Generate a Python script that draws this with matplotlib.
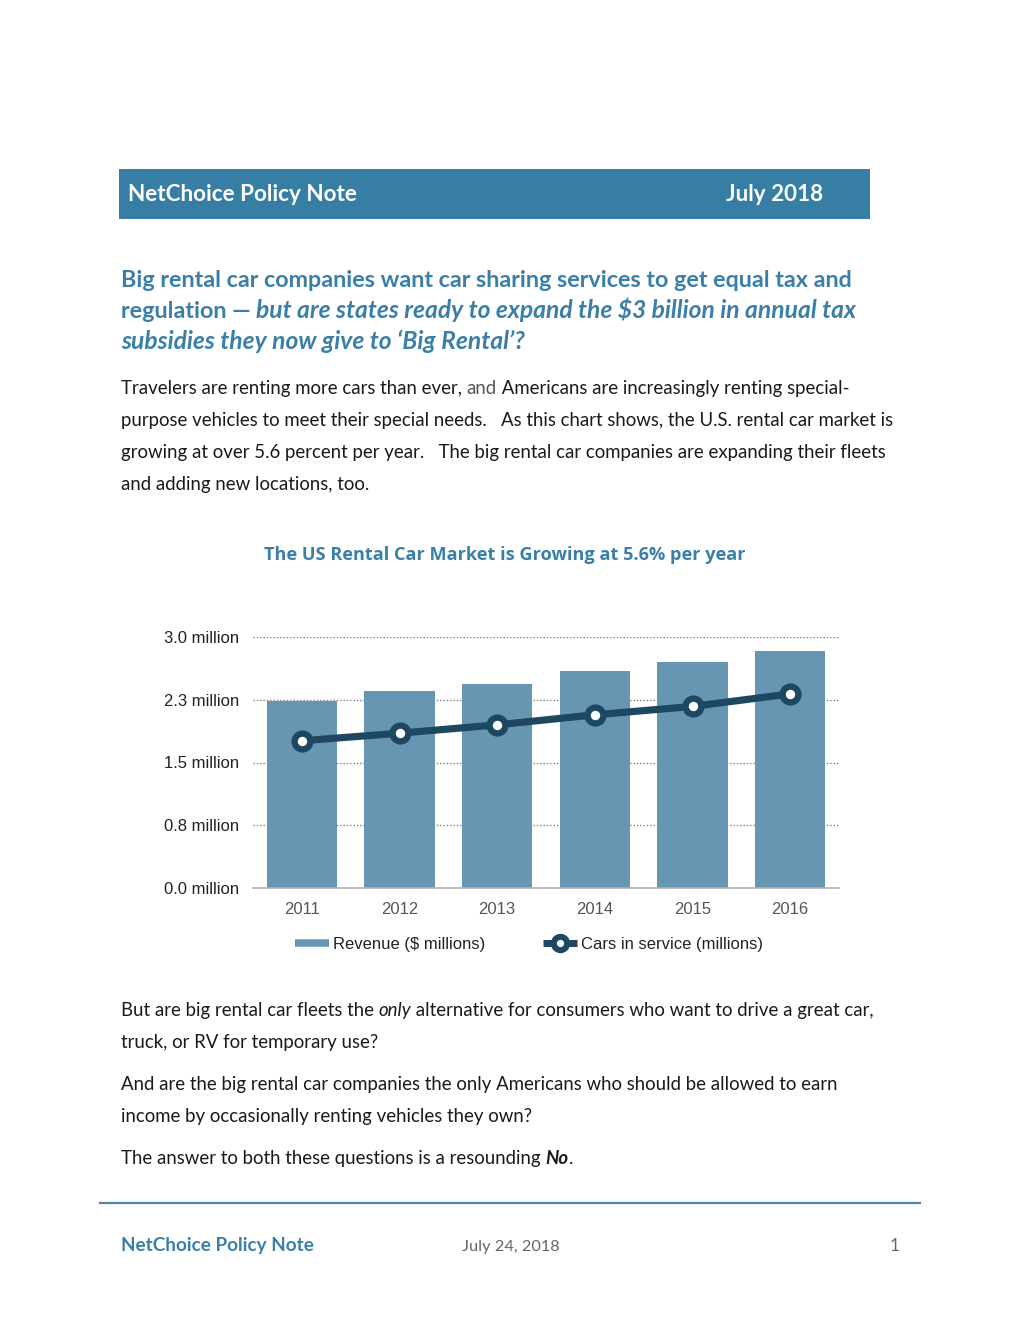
import matplotlib
matplotlib.use("Agg")
import matplotlib.pyplot as plt
from matplotlib.lines import Line2D
from matplotlib.patches import Rectangle

# ---------------- data ----------------
years = ["2011", "2012", "2013", "2014", "2015", "2016"]
revenue = [2.23, 2.35, 2.44, 2.59, 2.70, 2.83]
cars = [1.76, 1.85, 1.95, 2.07, 2.17, 2.32]
ytick_values = [0.0, 0.75, 1.5, 2.25, 3.0]
ytick_labels = ["0.0 million", "0.8 million", "1.5 million", "2.3 million", "3.0 million"]
legend_labels = ["Revenue ($ millions)", "Cars in service (millions)"]
chart_title = "The US Rental Car Market is Growing at 5.6% per year"

# ---------------- styles ----------------
W, H, DPI = 1020, 1320, 120
HEADER = "#367ea3"
BLUE_TXT = "#3a7fa8"
BAR = "#6796b3"
LINE = "#1e4862"
BODY = "#1a1a1a"
FONT = "Lato"

fig = plt.figure(figsize=(W / DPI, H / DPI), dpi=DPI)
fig.patch.set_facecolor("white")
renderer = fig.canvas.get_renderer()


def fx(x):
    return x / W


def fy(y):
    return 1 - y / H


def seg_width(txt, **kw):
    t1 = fig.text(0, 0, "x" + txt + "x", **kw)
    t2 = fig.text(0, 0, "xx", **kw)
    w = t1.get_window_extent(renderer).width - t2.get_window_extent(renderer).width
    t1.remove()
    t2.remove()
    return w


def runs(x, y, parts, size, color=BODY, family=FONT):
    for p in parts:
        txt = p[0]
        style = p[1] if len(p) > 1 else ""
        col = p[2] if len(p) > 2 else color
        sz = p[3] if len(p) > 3 else size
        kw = dict(fontsize=sz, family=family, color=col,
                  fontweight="bold" if "b" in style else "normal",
                  fontstyle="italic" if "i" in style else "normal")
        fig.text(fx(x), fy(y), txt, ha="left", va="baseline", **kw)
        x += seg_width(txt, **kw)


# ---------------- header bar ----------------
fig.patches.append(Rectangle((fx(119), fy(219)), (870 - 119) / W, (219 - 169) / H,
                             transform=fig.transFigure, facecolor=HEADER,
                             edgecolor="none", zorder=0))
fig.text(fx(128), fy(201), "NetChoice Policy Note", color="white", fontsize=13.5,
         fontweight="bold", family=FONT, va="baseline", ha="left")
fig.text(fx(823), fy(201), "July 2018", color="white", fontsize=13.5,
         fontweight="bold", family=FONT, va="baseline", ha="right")

# ---------------- heading ----------------
HS = 14.0
HI = 14.8
runs(121, 287, [("Big rental car companies want car sharing services to get equal tax and", "b")],
     HS, BLUE_TXT)
runs(121, 318, [("regulation \u2014 ", "b"),
                ("but are states ready to expand the $3 billion in annual tax", "bi", BLUE_TXT, HI)],
     HS, BLUE_TXT)
runs(121, 349, [("subsidies they now give to \u2018Big Rental\u2019?", "bi")], HI, BLUE_TXT)

# ---------------- body ----------------
BS = 11.15
runs(121, 394, [("Travelers are renting more cars than ever, ",), ("and", "", "#555555"),
                (" Americans are increasingly renting special-",)], BS)
runs(121, 426, [("purpose vehicles to meet their special needs.   As this chart shows, the U.S. rental car market is",)], BS)
runs(121, 458, [("growing at over 5.6 percent per year.   The big rental car companies are expanding their fleets",)], BS)
runs(121, 490, [("and adding new locations, too.",)], BS)

# ---------------- chart title ----------------
fig.text(fx(505), fy(560), chart_title, color=BLUE_TXT, fontsize=10.9,
         fontweight="bold", family="Open Sans", ha="center", va="baseline")

# ---------------- chart ----------------
ax = fig.add_axes([fx(253), fy(888), (839 - 253) / W, (888 - 637) / H])
x = list(range(len(years)))
ax.bar(x, revenue, width=0.72, color=BAR, zorder=2, label=legend_labels[0])
ax.plot(x, cars, color=LINE, lw=4.3, zorder=3, solid_capstyle="round")
ax.plot(x, cars, linestyle="none", marker="o", markersize=9.5, markerfacecolor="white",
        markeredgecolor=LINE, markeredgewidth=3.8, zorder=4)
ax.set_xlim(-0.5, len(years) - 0.5)
ax.set_ylim(0, 3.0)
ax.set_yticks(ytick_values)
ax.set_yticklabels(ytick_labels)
ax.set_xticks(x)
ax.set_xticklabels(years)
for v in ytick_values[1:]:
    ax.axhline(v, color="#777777", lw=0.8, linestyle=(0, (1, 1.5)), zorder=1)
for s in ["top", "right", "left"]:
    ax.spines[s].set_visible(False)
ax.spines["bottom"].set_color("#b0b0b0")
ax.spines["bottom"].set_linewidth(1.0)
ax.tick_params(axis="both", length=0)
ax.tick_params(axis="y", pad=8.5, labelsize=10, labelcolor="#222222")
ax.tick_params(axis="x", pad=8.2, labelsize=10, labelcolor="#555555")
for lab in ax.get_xticklabels() + ax.get_yticklabels():
    lab.set_family("Liberation Sans")
ax.patch.set_alpha(0)

h1 = Line2D([], [], color=BAR, lw=4.5, solid_capstyle="butt")
h2 = Line2D([], [], color=LINE, lw=4.2, marker="o", markersize=8.0, solid_capstyle="butt",
            markerfacecolor="white", markeredgecolor=LINE, markeredgewidth=3.6)
leg = fig.legend([h1, h2], legend_labels, loc="center", bbox_to_anchor=(fx(529), fy(944.5)),
                 ncol=2, frameon=False, handlelength=2.0, handletextpad=0.25,
                 columnspacing=3.5, prop={"family": "Liberation Sans", "size": 10})
for t in leg.get_texts():
    t.set_color("#222222")

# ---------------- lower body ----------------
runs(121, 1016, [("But are big rental car fleets the ",), ("only", "i"),
                 (" alternative for consumers who want to drive a great car,",)], BS)
runs(121, 1048, [("truck, or RV for temporary use?",)], BS)
runs(121, 1090, [("And are the big rental car companies the only Americans who should be allowed to earn",)], BS)
runs(121, 1122, [("income by occasionally renting vehicles they own?",)], BS)
runs(121, 1164, [("The answer to both these questions is a resounding ",), ("No", "bi"), (".",)], BS)

# ---------------- footer ----------------
fig.add_artist(Line2D([fx(100), fx(920)], [fy(1203), fy(1203)], transform=fig.transFigure,
                      color="#4a83a8", lw=1.3))
fig.text(fx(121), fy(1251), "NetChoice Policy Note", color=BLUE_TXT, fontsize=11.3,
         fontweight="bold", family=FONT, va="baseline", ha="left")
fig.text(fx(462), fy(1251), "July 24, 2018", color="#666666", fontsize=9.8,
         family=FONT, va="baseline", ha="left")
fig.text(fx(900), fy(1251), "1", color="#666666", fontsize=10.3,
         family=FONT, va="baseline", ha="right")

fig.savefig("out.png", dpi=DPI)
